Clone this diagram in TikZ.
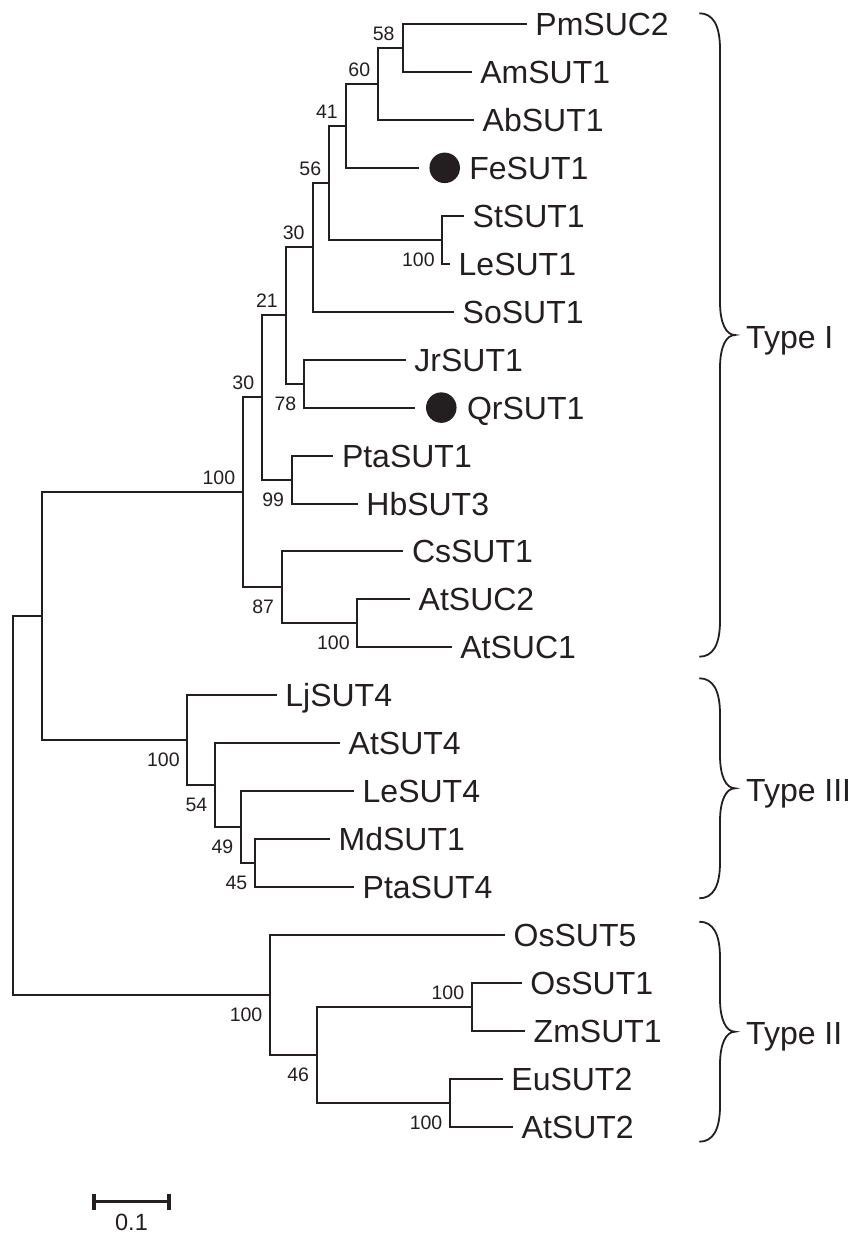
\documentclass[tikz,border=0pt]{standalone}
\usepackage{fontspec}
\setmainfont{Liberation Sans}
\usetikzlibrary{calc}
\definecolor{ink}{RGB}{35,31,32}
\newcommand\clbrace[4]{% top, mid, bottom, tip name
  \draw[bracestyle] (699.3,{-(#1)}) .. controls (713,{-(#1)}) and (720,{-(#1)-12}) .. (720,{-(#1)-36})
    -- (720,{-(#2)+33}) .. controls (720,{-(#2)+12}) and (726,{-(#2)}) .. (735,{-(#2)})
    .. controls (726,{-(#2)}) and (720,{-(#2)-12}) .. (720,{-(#2)-33})
    -- (720,{-(#3)+36}) .. controls (720,{-(#3)+12}) and (713,{-(#3)}) .. (699.3,{-(#3)});
  \coordinate (#4) at (735,{-(#2)});
}
\begin{document}
\begin{tikzpicture}[x=1pt,y=1pt,
  br/.style={draw=ink, line width=2pt},
  leaf/.style={anchor=base west, inner sep=0pt, xshift=8.5pt, yshift=-11.5pt, text=ink, font=\fontsize{32}{38}\selectfont},
  bsa/.style={anchor=base east, inner sep=0pt, xshift=-8pt, yshift=7.5pt, text=ink, font=\fontsize{19.5}{23}\selectfont},
  bsb/.style={anchor=base east, inner sep=0pt, xshift=-7.5pt, yshift=-26.5pt, text=ink, font=\fontsize{19.5}{23}\selectfont},
  dot/.style={circle, fill=ink, inner sep=0pt, minimum size=30.5pt},
  bracestyle/.style={draw=ink, line width=1.8pt},
  typelab/.style={anchor=base west, inner sep=0pt, xshift=11pt, yshift=-13pt, text=ink, font=\fontsize{32}{38}\selectfont},
  scalebar/.style={draw=ink, line width=3.2pt},
  scalelab/.style={anchor=base, inner sep=0pt, yshift=-28.3pt, text=ink, font=\fontsize{23.5}{28}\selectfont},
]
\path[use as bounding box] (0,0) rectangle (859,-1234);

% leaf branch ends
\coordinate (PmSUC2) at (526.7,-24);
\coordinate (AmSUT1) at (471.7,-71.95);
\coordinate (AbSUT1) at (474,-119.9);
\coordinate (FeSUT1) at (419,-167.85);
\coordinate (StSUT1) at (464,-215.8);
\coordinate (LeSUT1) at (450,-263.75);
\coordinate (SoSUT1) at (454,-311.7);
\coordinate (JrSUT1) at (405.7,-359.65);
\coordinate (QrSUT1) at (415,-407.6);
\coordinate (PtaSUT1) at (333.3,-455.55);
\coordinate (HbSUT3) at (357.7,-503.5);
\coordinate (CsSUT1) at (403.3,-551.45);
\coordinate (AtSUC2) at (410,-599.4);
\coordinate (AtSUC1) at (451.7,-647.35);
\coordinate (LjSUT4) at (276.7,-695.3);
\coordinate (AtSUT4) at (340,-743.25);
\coordinate (LeSUT4) at (354,-791.2);
\coordinate (MdSUT1) at (330,-839.15);
\coordinate (PtaSUT4) at (354,-887.1);
\coordinate (OsSUT5) at (505,-935.05);
\coordinate (OsSUT1) at (521.7,-983);
\coordinate (ZmSUT1) at (525,-1030.95);
\coordinate (EuSUT2) at (502.7,-1078.9);
\coordinate (AtSUT2) at (513,-1126.85);

% internal nodes
\coordinate (n58) at (402.7,-47.98);
\coordinate (n60) at (378.3,-83.94);
\coordinate (n41) at (346,-125.89);
\coordinate (nStLe) at (442.3,-239.78);
\coordinate (n56) at (329.3,-182.83);
\coordinate (n30a) at (312.7,-247.27);
\coordinate (nJrQr) at (304,-383.63);
\coordinate (n21) at (286,-315.45);
\coordinate (nPtaHb) at (291.7,-479.53);
\coordinate (n30b) at (262.3,-397.49);
\coordinate (nAtSUC) at (357.3,-623.38);
\coordinate (n87) at (281.7,-587.41);
\coordinate (n100I) at (243.3,-492.45);
\coordinate (n45) at (255,-863.13);
\coordinate (n49) at (241,-827.16);
\coordinate (n54) at (215,-785.21);
\coordinate (n100III) at (187.3,-740.25);
\coordinate (nIIII) at (41.7,-616.35);
\coordinate (nOsZm) at (472.3,-1006.98);
\coordinate (nEuAt) at (450,-1102.88);
\coordinate (n46) at (316.7,-1054.93);
\coordinate (n100II) at (270,-994.99);
\coordinate (root) at (13.3,-805.67);

% branches
\draw[br] (n58) |- (PmSUC2);
\draw[br] (n58) |- (AmSUT1);
\draw[br] (n60) |- (n58);
\draw[br] (n60) |- (AbSUT1);
\draw[br] (n41) |- (n60);
\draw[br] (n41) |- (FeSUT1);
\draw[br] (nStLe) |- (StSUT1);
\draw[br] (nStLe) |- (LeSUT1);
\draw[br] (n56) |- (n41);
\draw[br] (n56) |- (nStLe);
\draw[br] (n30a) |- (n56);
\draw[br] (n30a) |- (SoSUT1);
\draw[br] (nJrQr) |- (JrSUT1);
\draw[br] (nJrQr) |- (QrSUT1);
\draw[br] (n21) |- (n30a);
\draw[br] (n21) |- (nJrQr);
\draw[br] (nPtaHb) |- (PtaSUT1);
\draw[br] (nPtaHb) |- (HbSUT3);
\draw[br] (n30b) |- (n21);
\draw[br] (n30b) |- (nPtaHb);
\draw[br] (nAtSUC) |- (AtSUC2);
\draw[br] (nAtSUC) |- (AtSUC1);
\draw[br] (n87) |- (CsSUT1);
\draw[br] (n87) |- (nAtSUC);
\draw[br] (n100I) |- (n30b);
\draw[br] (n100I) |- (n87);
\draw[br] (n45) |- (MdSUT1);
\draw[br] (n45) |- (PtaSUT4);
\draw[br] (n49) |- (LeSUT4);
\draw[br] (n49) |- (n45);
\draw[br] (n54) |- (AtSUT4);
\draw[br] (n54) |- (n49);
\draw[br] (n100III) |- (LjSUT4);
\draw[br] (n100III) |- (n54);
\draw[br] (nIIII) |- (n100I);
\draw[br] (nIIII) |- (n100III);
\draw[br] (nOsZm) |- (OsSUT1);
\draw[br] (nOsZm) |- (ZmSUT1);
\draw[br] (nEuAt) |- (EuSUT2);
\draw[br] (nEuAt) |- (AtSUT2);
\draw[br] (n46) |- (nOsZm);
\draw[br] (n46) |- (nEuAt);
\draw[br] (n100II) |- (OsSUT5);
\draw[br] (n100II) |- (n46);
\draw[br] (root) |- (nIIII);
\draw[br] (root) |- (n100II);

% leaf labels
\node[leaf] (lPmSUC2) at (PmSUC2) {PmSUC2};
\node[leaf] (lAmSUT1) at (AmSUT1) {AmSUT1};
\node[leaf] (lAbSUT1) at (AbSUT1) {AbSUT1};
\node[dot] (dFe) at ($(FeSUT1)+(25.7,0)$) {};
\node[leaf, xshift=16pt] (lFeSUT1) at (dFe) {FeSUT1};
\node[leaf] (lStSUT1) at (StSUT1) {StSUT1};
\node[leaf] (lLeSUT1) at (LeSUT1) {LeSUT1};
\node[leaf] (lSoSUT1) at (SoSUT1) {SoSUT1};
\node[leaf] (lJrSUT1) at (JrSUT1) {JrSUT1};
\node[dot] (dQr) at ($(QrSUT1)+(26.3,0)$) {};
\node[leaf, xshift=17pt] (lQrSUT1) at (dQr) {QrSUT1};
\node[leaf] (lPtaSUT1) at (PtaSUT1) {PtaSUT1};
\node[leaf] (lHbSUT3) at (HbSUT3) {HbSUT3};
\node[leaf] (lCsSUT1) at (CsSUT1) {CsSUT1};
\node[leaf] (lAtSUC2) at (AtSUC2) {AtSUC2};
\node[leaf] (lAtSUC1) at (AtSUC1) {AtSUC1};
\node[leaf] (lLjSUT4) at (LjSUT4) {LjSUT4};
\node[leaf] (lAtSUT4) at (AtSUT4) {AtSUT4};
\node[leaf] (lLeSUT4) at (LeSUT4) {LeSUT4};
\node[leaf] (lMdSUT1) at (MdSUT1) {MdSUT1};
\node[leaf] (lPtaSUT4) at (PtaSUT4) {PtaSUT4};
\node[leaf] (lOsSUT5) at (OsSUT5) {OsSUT5};
\node[leaf] (lOsSUT1) at (OsSUT1) {OsSUT1};
\node[leaf] (lZmSUT1) at (ZmSUT1) {ZmSUT1};
\node[leaf] (lEuSUT2) at (EuSUT2) {EuSUT2};
\node[leaf] (lAtSUT2) at (AtSUT2) {AtSUT2};

% bootstrap values
\node[bsa] (b58) at (n58) {58};
\node[bsa] (b60) at (n60) {60};
\node[bsa] (b41) at (n41) {41};
\node[bsa] (b56) at (n56) {56};
\node[bsa] (b30a) at (n30a) {30};
\node[bsa] (b21) at (n21) {21};
\node[bsa] (b30b) at (n30b) {30};
\node[bsa] (b100I) at (n100I) {100};
\node[bsa] (bOsZm) at (nOsZm) {100};
\node[bsb] (bStLe) at (nStLe) {100};
\node[bsb] (bJrQr) at (nJrQr) {78};
\node[bsb] (bPtaHb) at (nPtaHb) {99};
\node[bsb] (b87) at (n87) {87};
\node[bsb] (bAtSUC) at (nAtSUC) {100};
\node[bsb] (b100III) at (n100III) {100};
\node[bsb] (b54) at (n54) {54};
\node[bsb] (b49) at (n49) {49};
\node[bsb] (b45) at (n45) {45};
\node[bsb] (b100II) at (n100II) {100};
\node[bsb] (b46) at (n46) {46};
\node[bsb] (bEuAt) at (nEuAt) {100};

% braces and group labels
\clbrace{13.3}{335}{656.7}{tipI}
\clbrace{678.3}{788.3}{898.3}{tipIII}
\clbrace{921.7}{1031.7}{1141.7}{tipII}
\node[typelab] (tI) at (tipI) {Type I};
\node[typelab] (tIII) at (tipIII) {Type III};
\node[typelab] (tII) at (tipII) {Type II};

% scale bar
\coordinate (sbL) at (94,-1201.7);
\coordinate (sbR) at (169,-1201.7);
\draw[scalebar] (sbL) -- (sbR);
\draw[scalebar] ($(sbL)+(0,7.8)$) -- ($(sbL)+(0,-7.8)$);
\draw[scalebar] ($(sbR)+(0,7.8)$) -- ($(sbR)+(0,-7.8)$);
\node[scalelab] (sblab) at ($(sbL)!0.5!(sbR)$) {0.1};
\end{tikzpicture}
\end{document}
